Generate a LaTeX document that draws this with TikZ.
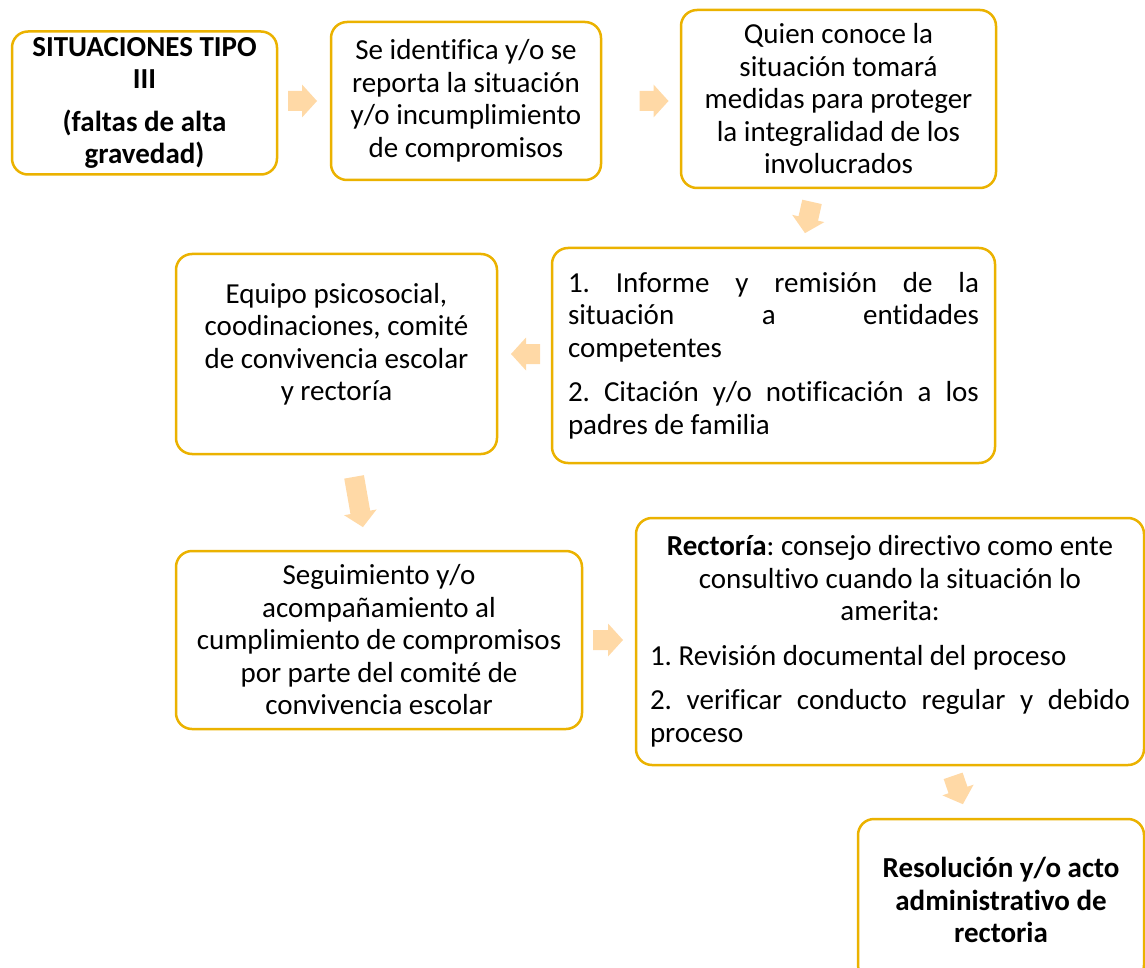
\documentclass[tikz,border=0pt]{standalone}
\usepackage{fontspec}
\setmainfont[Ligatures=NoCommon]{Carlito}
\definecolor{boxline}{RGB}{235,178,0}
\definecolor{arrowfill}{RGB}{255,217,166}
\newcommand\blockarr[4]{%
  \fill[arrowfill, shift={(#1,#2)}, rotate=#3]
    ({-#4/2},-10) -- ({#4/2-15},-10) -- ({#4/2-15},-16.5) -- ({#4/2},0)
    -- ({#4/2-15},16.5) -- ({#4/2-15},10) -- ({-#4/2},10) -- cycle;}
\begin{document}
\frenchspacing
\begin{tikzpicture}[x=1pt,y=-1pt,
  stepbox/.style={draw=boxline, line width=2.5pt, rounded corners=16pt, fill=white,
    inner sep=0pt, font=\fontsize{29}{32.5}\selectfont\frenchspacing},
  ctext/.style={align=flush center},
  jtext/.style={align=justify}]
\useasboundingbox (0,0) rectangle (1145,968);
\clip (0,0) rectangle (1145,968);
% boxes
\node[stepbox, ctext, minimum width=265pt, minimum height=143pt, text width=245pt] (b1) at (144.5,103)
  {\bfseries SITUACIONES TIPO\\ III\par\vspace{10pt}(faltas de alta\\ gravedad)};
\node[stepbox, ctext, minimum width=270pt, minimum height=158pt, text width=250pt] (b2) at (466,101)
  {Se identifica y/o se\\ reporta la situación\\ y/o incumplimiento\\ de compromisos};
\node[stepbox, ctext, minimum width=315pt, minimum height=178pt, text width=295pt] (b3) at (838.5,99)
  {Quien conoce la\\ situación tomará\\ medidas para proteger\\ la integralidad de los\\ involucrados};
\node[stepbox, jtext, minimum width=443pt, minimum height=215pt, text width=411pt] (b4) at (773.5,355.5)
  {1. Informe y remisión de la\linebreak situación a entidades\linebreak competentes\par\vspace{12pt}
   2. Citación y/o notificación a los\linebreak padres de familia};
\node[stepbox, ctext, minimum width=321pt, minimum height=200pt, text width=301pt] (b5) at (336.5,354)
  {Equipo psicosocial,\\ coodinaciones, comité\\ de convivencia escolar\\ y rectoría\\[-8pt]\mbox{}};
\node[stepbox, ctext, minimum width=406pt, minimum height=178pt, text width=386pt] (b6) at (379,640)
  {Seguimiento y/o\\ acompañamiento al\\ cumplimiento de compromisos\\ por parte del comité de\\ convivencia escolar};
\node[stepbox, jtext, minimum width=508pt, minimum height=247pt, text width=480pt] (b7) at (890,641.5)
  {{\centering\textbf{Rectoría}: consejo directivo como ente\\ consultivo cuando la situación lo\\ amerita:\par}\vspace{12pt}
   1. Revisión documental del proceso\par\vspace{12pt}
   2. verificar conducto regular y debido\linebreak proceso};
\node[stepbox, ctext, minimum width=286pt, minimum height=162pt, text width=266pt] (b8) at (1001,900)
  {\bfseries Resolución y/o acto\\ administrativo de\\ rectoria};
% block arrows
\blockarr{302.5}{101}{0}{29}
\blockarr{654}{101}{0}{29}
\blockarr{808.5}{217.5}{-102.7}{32}
\blockarr{525.5}{354}{180}{29}
\blockarr{358.5}{502}{-80}{51}
\blockarr{608}{640}{0}{30}
\blockarr{958}{790}{-71}{30}
\end{tikzpicture}
\end{document}
